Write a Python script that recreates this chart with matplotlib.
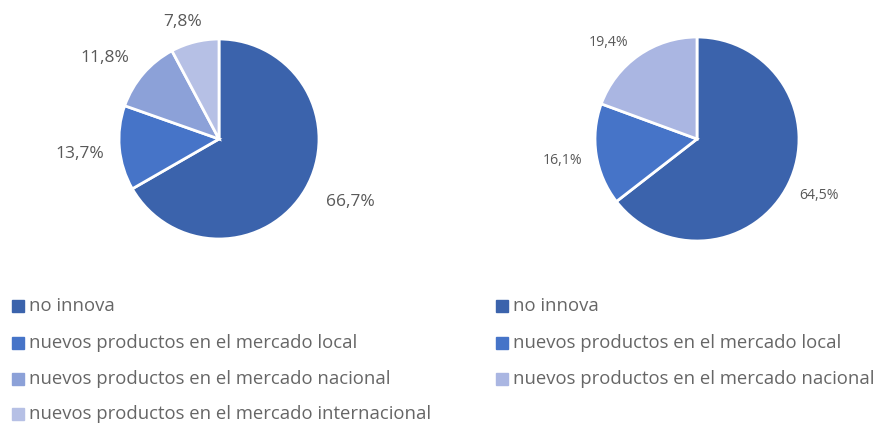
import matplotlib.pyplot as plt
from matplotlib.patches import Rectangle

W, H = 879, 426

categories = [
    "no innova",
    "nuevos productos en el mercado local",
    "nuevos productos en el mercado nacional",
    "nuevos productos en el mercado internacional",
]
left_values = [66.7, 13.7, 11.8, 7.8]
right_values = [64.5, 16.1, 19.4]

left_colors = ["#3B63AC", "#4674C8", "#8CA1D8", "#B6C0E5"]
right_colors = ["#3B63AC", "#4674C8", "#AAB6E2"]

# label offsets (in units of the pie radius) for each wedge
left_label_pos = [(1.31, -0.63), (-1.39, -0.15), (-1.14, 0.81), (-0.36, 1.17)]
right_label_pos = [(1.20, -0.55), (-1.32, -0.21), (-0.87, 0.95)]

plt.rcParams["font.family"] = ["Open Sans", "DejaVu Sans"]
fig = plt.figure(figsize=(W / 100, H / 100), dpi=100)
fig.patch.set_facecolor("white")


def pie_axes(cx, cy, r):
    return fig.add_axes([(cx - r) / W, 1 - (cy + r) / H, 2 * r / W, 2 * r / H])


def fmt(v):
    return f"{v:.1f}%".replace(".", ",")


def draw_pie(ax, values, colors, label_pos, fs):
    ax.pie(values, colors=colors, startangle=90, counterclock=False,
           wedgeprops=dict(edgecolor="white", linewidth=2))
    for v, (dx, dy) in zip(values, label_pos):
        ax.text(dx, dy, fmt(v), ha="center", va="center", fontsize=fs,
                color="#595959")
    ax.set_xlim(-1, 1)
    ax.set_ylim(-1, 1)
    ax.set_aspect("equal")
    ax.axis("off")


axl = pie_axes(219, 139, 100)
draw_pie(axl, left_values, left_colors, left_label_pos, 12.5)

axr = pie_axes(697, 139, 102)
draw_pie(axr, right_values, right_colors, right_label_pos, 10.2)


def draw_legend(x_px, text_px, names, colors, rows):
    for name, color, y in zip(names, colors, rows):
        fig.add_artist(Rectangle((x_px / W, 1 - (y + 6) / H), 12 / W, 12 / H,
                                 transform=fig.transFigure, color=color))
        fig.text(text_px / W, 1 - (y + 5) / H, name, ha="left", va="baseline",
                 fontsize=13.3, color="#666666")


rows = [306, 343, 379, 414]
draw_legend(12, 29, categories, left_colors, rows)
draw_legend(496, 513, categories[:3], right_colors, rows[:3])

fig.savefig("out.png", dpi=100, facecolor="white")
